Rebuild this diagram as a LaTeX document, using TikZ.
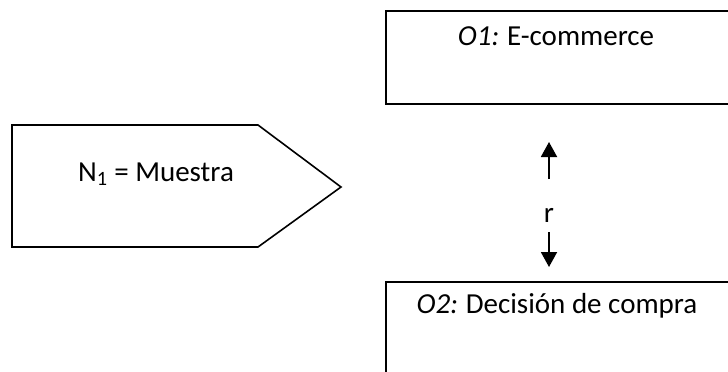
\documentclass[tikz,border=0pt]{standalone}
\usepackage{fontspec}
\setmainfont{Carlito}
\usetikzlibrary{arrows.meta}
\begin{document}
\begin{tikzpicture}[x=1pt,y=-1pt,
  frame/.style={draw=black,line width=1.6pt},
  lbl/.style={inner sep=0pt,font=\fontsize{29}{33}\selectfont},
  conn/.style={line width=1.9pt,-{Triangle[length=15pt,width=16pt]}}]
\useasboundingbox (0,0) rectangle (728,372);
\clip (0,0) rectangle (728,372);
\fill[white] (0,0) rectangle (728,372);
% pentagon
\draw[frame,line join=miter] (12,125) -- (258,125) -- (341,187) -- (258,247) -- (12,247) -- cycle;
\node[lbl,anchor=base west] (n1) at (78,181) {N\textsubscript{1} = Muestra};
% top box
\node[frame,rectangle,minimum width=360pt,minimum height=93pt,anchor=north west,inner sep=0pt] (o1box) at (385,10) {};
\node[lbl,anchor=base] (o1) at (556,45) {\textit{O1:}\hspace{-1pt} E-commerce};
% bottom box
\node[frame,rectangle,minimum width=360pt,minimum height=100pt,anchor=north west,inner sep=0pt] (o2box) at (385,281) {};
\node[lbl,anchor=base] (o2) at (557,313) {\textit{O2:}\hspace{-1pt} Decisión de compra};
% r and arrows
\node[lbl,anchor=base] (r) at (549,222) {r};
\coordinate (upstart) at (549,179);
\coordinate (uptip) at (549,142);
\coordinate (dnstart) at (549,232);
\coordinate (dntip) at (549,267);
\draw[conn] (upstart) -- (uptip);
\draw[conn] (dnstart) -- (dntip);
\end{tikzpicture}
\end{document}
